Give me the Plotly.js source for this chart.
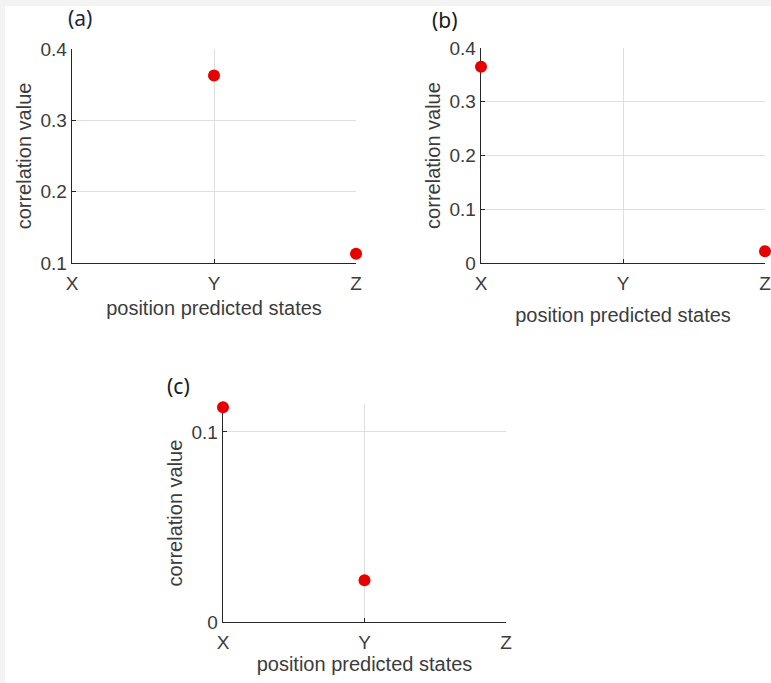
<!DOCTYPE html>
<html>
<head>
<meta charset="utf-8">
<script src="https://cdn.plot.ly/plotly-3.0.1.min.js"></script>
<style>
  html, body { margin: 0; padding: 0; background: #f3f3f3; }
  #chart { position: absolute; left: 0; top: 0; width: 771px; height: 683px; }
</style>
</head>
<body>
<div id="chart"></div>
<script>
// ---- data ----
var positions = ['X', 'Y', 'Z'];
var corrA = [null, 0.363, 0.113];
var corrB = [0.365, null, 0.022];
var corrC = [0.113, 0.022, null];
var yTicksA = [0.1, 0.2, 0.3, 0.4];
var yTicksB = [0, 0.1, 0.2, 0.3, 0.4];
var yTicksC = [0, 0.1];
var panelLabels = ['(a)', '(b)', '(c)'];
var xTitle = 'position predicted states';
var yTitle = 'correlation value';

// ---- layout helpers ----
var W = 771, H = 683;
function dx(a, b) { return [a / W, b / W]; }
function dy(top, bottom) { return [1 - bottom / H, 1 - top / H]; }

var tickFont = { family: 'Liberation Sans, Arial, sans-serif', size: 19, color: '#3c3c3c' };
var titleFont = { family: 'Liberation Sans, Arial, sans-serif', size: 20, color: '#3c3c3c' };
var red = '#e60000';

function xax(domain, anchor, standoff) {
  return {
    domain: domain, anchor: anchor, type: 'category', categoryorder: 'array', categoryarray: positions,
    range: [0, 2], showgrid: true, gridcolor: '#dedede', gridwidth: 1,
    showline: true, linecolor: '#262626', linewidth: 1.3, mirror: false, layer: 'below traces',
    ticks: 'inside', ticklen: 4, tickcolor: '#262626', tickfont: tickFont, ticklabelstandoff: 3,
    zeroline: false, fixedrange: true,
    title: { text: xTitle, font: titleFont, standoff: standoff }
  };
}
function yax(domain, anchor, range, tickvals, standoff) {
  return {
    domain: domain, anchor: anchor, range: range, tickvals: tickvals,
    ticktext: tickvals.map(function (v) { return v === 0 ? '0' : String(v); }),
    showgrid: true, gridcolor: '#dedede', gridwidth: 1, layer: 'below traces',
    showline: true, linecolor: '#262626', linewidth: 1.3,
    ticks: 'inside', ticklen: 4, tickcolor: '#262626', tickfont: tickFont,
    zeroline: false, fixedrange: true,
    title: { text: yTitle, font: titleFont, standoff: standoff }
  };
}

function trace(y, xa, ya) {
  return {
    x: positions, y: y, xaxis: xa, yaxis: ya, type: 'scatter', mode: 'markers',
    marker: { color: red, size: 12, line: { width: 0 } },
    cliponaxis: false, showlegend: false, hoverinfo: 'x+y'
  };
}

var data = [
  trace(corrA, 'x', 'y'),
  trace(corrB, 'x2', 'y2'),
  trace(corrC, 'x3', 'y3')
];

var layout = {
  width: W, height: H,
  margin: { l: 0, r: 0, t: 0, b: 0 },
  paper_bgcolor: '#ffffff', plot_bgcolor: '#ffffff',
  showlegend: false,
  xaxis: xax(dx(72, 356), 'y', 8),
  yaxis: yax(dy(49, 263), 'x', [0.1, 0.4], yTicksA, 3),
  xaxis2: xax(dx(481, 765), 'y2', 15),
  yaxis2: yax(dy(48, 263), 'x2', [0, 0.4], yTicksB, 3),
  xaxis3: xax(dx(223, 506), 'y3', 2),
  yaxis3: yax(dy(404, 622), 'x3', [0, 0.1147], yTicksC, 3),
  shapes: [
    { type: 'rect', xref: 'paper', yref: 'paper', x0: 0, x1: 1, y0: 1 - 6 / H, y1: 1, fillcolor: '#f3f3f3', line: { width: 0 }, layer: 'below' },
    { type: 'rect', xref: 'paper', yref: 'paper', x0: 0, x1: 5 / W, y0: 0, y1: 1, fillcolor: '#f3f3f3', line: { width: 0 }, layer: 'below' }
  ],
  annotations: [
    { text: panelLabels[0], xref: 'paper', yref: 'paper', x: 80 / W, y: 1 - 18 / H, showarrow: false, xanchor: 'center', yanchor: 'middle', font: { family: 'Noto Sans, Open Sans, sans-serif', size: 21, color: '#1c2540' } },
    { text: panelLabels[1], xref: 'paper', yref: 'paper', x: 445 / W, y: 1 - 20 / H, showarrow: false, xanchor: 'center', yanchor: 'middle', font: { family: 'Noto Sans, Open Sans, sans-serif', size: 21, color: '#1a1a1a' } },
    { text: panelLabels[2], xref: 'paper', yref: 'paper', x: 178 / W, y: 1 - 386 / H, showarrow: false, xanchor: 'center', yanchor: 'middle', font: { family: 'Noto Sans, Open Sans, sans-serif', size: 21, color: '#1a1a1a' } }
  ]
};

Plotly.newPlot('chart', data, layout, { displayModeBar: false, staticPlot: true });
</script>
</body>
</html>
